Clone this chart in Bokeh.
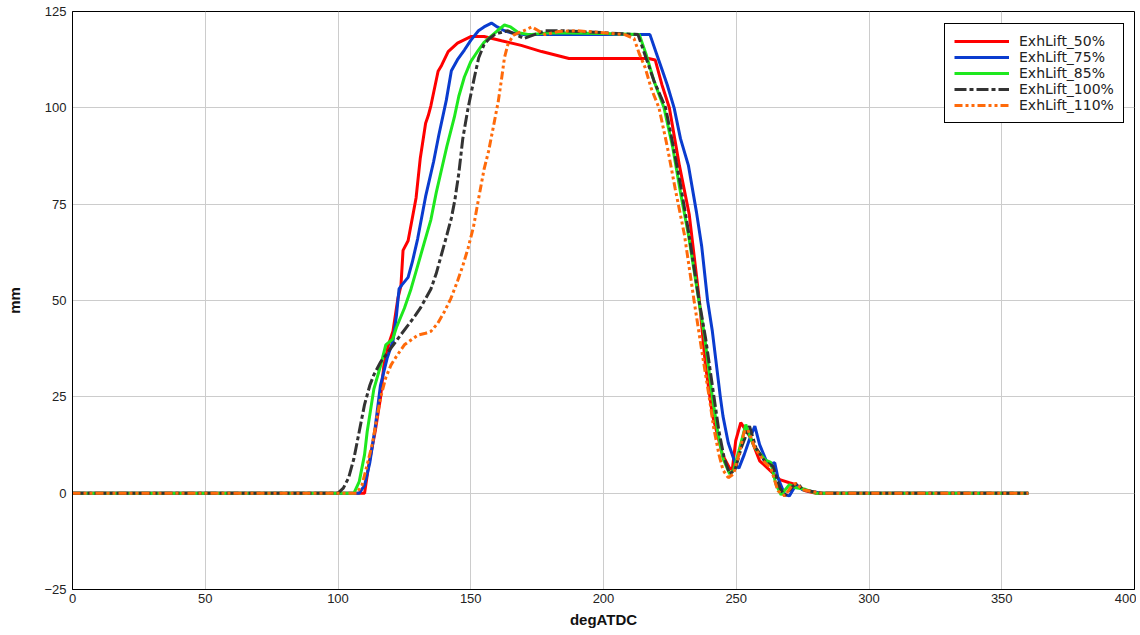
from bokeh.plotting import figure
from bokeh.models import FixedTicker, Legend, LegendItem
from bokeh.embed import file_html
from bokeh.resources import INLINE

# ---- data ----
x_50 = [0, 110, 111.6, 114, 116, 117.3, 119, 120.7, 122.6, 123.7, 124.5, 126.4, 128, 129.4, 131, 133, 134, 135,
        137.7, 139, 141.5, 145, 150, 155, 161.6, 169, 176.7, 187, 200, 217, 219.5, 222, 224.8, 228.6, 232.3,
        236, 238.4, 241, 244.8, 247.4, 248.5, 249.8, 251.7, 255.4, 258.8, 262.6, 266.4, 270, 272.5, 276, 280, 360]
y_50 = [0, 0, 7.4, 16, 24.7, 33.3, 38.5, 42, 50.7, 53.8, 63, 65.5, 71.4, 76.6, 87, 96, 98, 100.6,
        109.5, 111, 114.6, 116.8, 118.5, 118.5, 117.4, 116.2, 114.6, 112.8, 112.8, 112.8, 112.4, 106, 100, 85, 72.3,
        50.7, 33.3, 20.4, 10, 6.6, 6, 13.6, 18.3, 14.4, 8.4, 6, 3.5, 2.7, 2.2, 0.6, 0, 0]

x_75 = [0, 108, 110, 112, 114, 116, 118.5, 120.7, 122, 123, 124, 126.4, 128, 130, 133, 134, 136, 138, 140.8,
        142.7, 145, 147.6, 150, 152.9, 155, 157.8, 160, 162.7, 165, 170, 200, 217.5, 220, 222, 224, 226.6, 229,
        232, 235, 237, 239.2, 241, 244, 245, 247, 250, 251, 253, 255, 257, 258.8, 261.9, 264.5, 265.7, 268.3,
        270, 272.5, 275, 282, 360]
y_75 = [0, 0, 2, 8, 17, 28, 35, 39.5, 46, 53, 54, 56, 60, 66, 77, 80, 86, 93, 102,
        109.6, 112.5, 115, 117.5, 120, 121, 122, 121, 120, 119.5, 119, 119, 119, 114, 110, 106, 100, 92,
        85, 73, 64, 50, 42, 25, 20, 13, 7, 6.5, 10, 14, 17.4, 12.6, 7.4, 7.9, 4, -0.4,
        -0.7, 2.2, 0.9, 0, 0]

x_85 = [0, 106, 108, 110, 111, 113.5, 116, 118, 120.6, 122, 125, 127.5, 130, 132.5, 135, 137, 139, 141, 143.8,
        145.5, 147.6, 150, 152.9, 155, 157.8, 160, 162.7, 165, 168, 172, 180, 200, 213.5, 216, 219, 222.8, 226,
        229, 232, 235.9, 238, 241, 243, 245, 247.5, 249, 251, 253.6, 255, 257, 261, 263, 265, 266.9, 270,
        272.5, 276, 280, 360]
y_85 = [0, 0, 3, 10, 16, 27, 33, 38.5, 40, 43, 48, 53, 59, 65, 71, 78, 84, 90, 97.5,
        103, 108, 112, 115, 117, 118.7, 120, 121.5, 121, 119.5, 119, 119.5, 119.3, 119, 114, 107, 100, 90,
        78, 67, 50, 41, 25, 16, 9, 5, 6, 11, 17.8, 15, 11.8, 8.6, 8, 2.2, -0.4, 2.2,
        1.4, 1, 0, 0]

x_100 = [0, 100, 102, 104, 106, 108, 110, 112, 113.5, 116, 120, 123, 126.4, 129, 131, 133, 135, 137, 139, 141,
         142.7, 144, 145.5, 147, 149, 151.4, 153, 155, 157, 159, 161, 164, 167, 170, 174, 178, 185, 200, 213,
         215.5, 219, 223.4, 226, 229, 232, 236, 238.5, 241.6, 243.5, 245.5, 247.5, 249.5, 252, 255, 257.4, 261,
         263.8, 266.4, 268.3, 271.3, 273.2, 275, 282, 360]
y_100 = [0, 0, 1.3, 4, 9, 16, 23, 28, 30.7, 34, 37.7, 40.5, 43.6, 46, 48, 50.5, 53, 57, 62, 67,
         71.4, 76, 83, 92, 100, 108, 113, 116.4, 118, 119, 119.5, 120, 119, 118, 119, 120, 120, 119.5, 119,
         114, 107, 100, 91, 80, 68, 50, 40, 25, 16, 9, 5, 6, 12, 17.4, 11.8, 8,
         7, 1.4, -0.7, 1.8, 2.6, 0.9, 0, 0]

x_110 = [0, 107, 109, 111, 113, 114.5, 116, 118, 120, 122, 125, 127, 130, 133, 135, 137.5, 140, 142.5, 145, 147,
         149, 151, 153, 155, 156.7, 158.5, 160.4, 161.5, 162.7, 164, 166, 168, 170, 173, 175.5, 178, 183, 190,
         200, 208, 211.5, 213.5, 215.7, 218, 220.9, 224, 227, 230.5, 234.1, 237, 239.8, 241.5, 243.5, 245, 247,
         249, 251, 253, 254.3, 255.5, 257, 260.7, 263, 265.7, 268.3, 270.5, 272.5, 275, 282, 360]
y_110 = [0, 0, 2, 7.4, 13, 19, 24.7, 30, 33.3, 35.5, 38.5, 39.5, 41, 41.5, 42, 44, 47, 50.5, 55, 59,
         63.6, 69, 76.6, 84, 88.7, 95, 101.8, 107, 113, 116.5, 118.8, 119.5, 120, 121, 120, 119, 119.8, 120,
         119.5, 119, 118, 114, 110.4, 105, 100, 90, 79, 67, 50, 37, 25, 17, 10, 6, 4,
         5, 10, 16, 16.5, 14.5, 11.8, 8, 6.6, 0.6, -0.7, 1.5, 2.6, 0.9, 0, 0]

labels = ["ExhLift_50%", "ExhLift_75%", "ExhLift_85%", "ExhLift_100%", "ExhLift_110%"]
x_ticks = [0, 50, 100, 150, 200, 250, 300, 350, 400]
y_ticks = [-25, 0, 25, 50, 75, 100, 125]

series = [(x_50, y_50), (x_75, y_75), (x_85, y_85), (x_100, y_100), (x_110, y_110)]
colors = ["#ff0000", "#0a3ccf", "#1ee81e", "#333333", "#ff6a0a"]
dashes = ["solid", "solid", "solid", "12 3 4 3", "8 3 3 3 3 3"]

p = figure(width=1136, height=630, x_range=(0, 400), y_range=(-25, 125),
           output_backend="svg", toolbar_location=None,
           min_border_left=72, min_border_right=2, min_border_top=11, min_border_bottom=39)

p.background_fill_color = "white"
p.border_fill_color = "white"
p.outline_line_color = "black"
p.outline_line_width = 1
p.outline_line_alpha = 1

p.xaxis.ticker = FixedTicker(ticks=x_ticks)
p.yaxis.ticker = FixedTicker(ticks=y_ticks)
for ax in (p.xaxis[0], p.yaxis[0]):
    ax.axis_line_color = "black"
    ax.major_tick_line_color = None
    ax.minor_tick_line_color = None
    ax.major_tick_out = 0
    ax.major_tick_in = 0
    ax.minor_tick_out = 0
    ax.minor_tick_in = 0
    ax.major_label_text_font = "Liberation Sans"
    ax.major_label_text_font_size = "13px"
    ax.major_label_text_color = "#222222"
    ax.axis_label_text_font = "Liberation Sans"
    ax.axis_label_text_font_size = "15px"
    ax.axis_label_text_font_style = "bold"
    ax.axis_label_text_color = "#111111"
p.xaxis.major_label_standoff = 4
p.yaxis.major_label_standoff = 6
p.xaxis.axis_label = "degATDC"
p.yaxis.axis_label = "mm"
p.xaxis.axis_label_standoff = 5
p.yaxis.axis_label_standoff = 18

p.xgrid.grid_line_color = "#cccccc"
p.ygrid.grid_line_color = "#cccccc"
p.xgrid.grid_line_width = 1
p.ygrid.grid_line_width = 1

items = []
for (xs, ys), c, d, lab in zip(series, colors, dashes, labels):
    r = p.line(xs, ys, line_color=c, line_width=3, line_dash=d)
    items.append(LegendItem(label=lab, renderers=[r]))

legend = Legend(items=items, location=(872, 466))
legend.border_line_color = "black"
legend.border_line_width = 1
legend.border_line_alpha = 1
legend.background_fill_color = "white"
legend.background_fill_alpha = 1
legend.padding = 9
legend.spacing = 0
legend.margin = 0
legend.label_height = 16
legend.glyph_height = 16
legend.glyph_width = 55
legend.label_standoff = 10
legend.label_text_font = "DejaVu Sans"
legend.label_text_font_size = "14px"
legend.label_text_color = "#222222"
p.add_layout(legend)

open("out.html", "w").write(file_html(p, INLINE))
